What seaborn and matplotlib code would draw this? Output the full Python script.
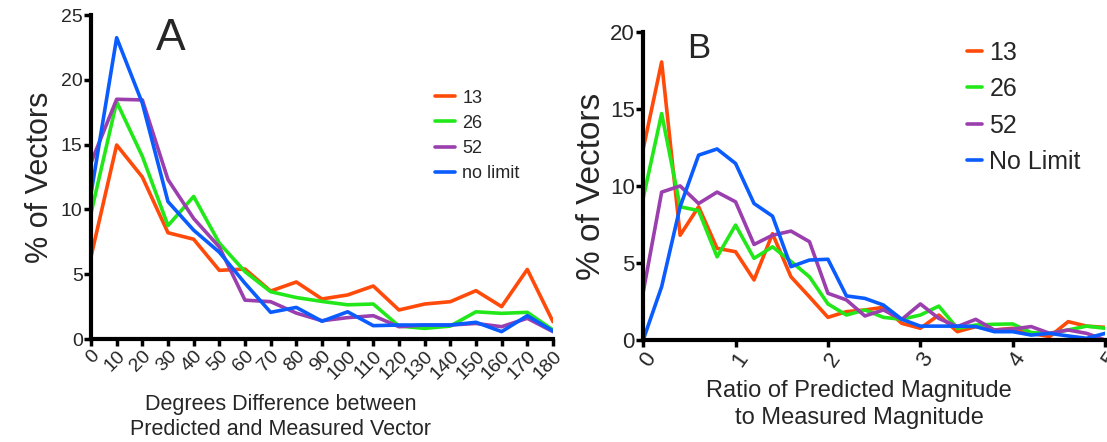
import numpy as np
import pandas as pd
import matplotlib
matplotlib.use("Agg")
import matplotlib.pyplot as plt
import seaborn as sns

# panel A: degrees difference (0..180 step 10)
deg = list(range(0, 190, 10))
a_13 = [6.35, 14.97, 12.5, 8.2, 7.7, 5.3, 5.4, 3.7, 4.4, 3.09, 3.4, 4.09, 2.24, 2.7, 2.88, 3.73, 2.5, 5.37, 1.34]
a_26 = [9.7, 18.3, 14.1, 8.75, 11.0, 7.4, 5.2, 3.65, 3.2, 2.9, 2.64, 2.7, 1.0, 0.82, 1.0, 2.1, 1.98, 2.06, 0.7]
a_52 = [13.6, 18.5, 18.45, 12.3, 9.3, 7.1, 3.0, 2.88, 2.0, 1.41, 1.65, 1.8, 0.95, 1.08, 1.08, 1.2, 0.95, 1.6, 0.57]
a_nl = [11.2, 23.25, 18.2, 10.6, 8.4, 6.7, 4.3, 2.06, 2.44, 1.37, 2.1, 1.03, 1.08, 1.08, 1.08, 1.29, 0.57, 1.8, 0.62]

# panel B: magnitude ratio (0..5 step 0.2)
ratio = [round(i * 0.2, 1) for i in range(26)]
b_13 = [12.4, 18.05, 6.8, 8.65, 5.95, 5.73, 3.9, 6.9, 4.1, 2.8, 1.47, 1.84, 1.95, 2.12, 1.08, 0.76,
        1.62, 0.54, 0.87, 0.65, 0.76, 0.43, 0.22, 1.19, 0.9, 0.82]
b_26 = [9.2, 14.7, 8.65, 8.4, 5.4, 7.46, 5.3, 6.05, 5.1, 4.1, 2.34, 1.62, 1.95, 1.47, 1.34, 1.62,
        2.2, 0.76, 0.97, 1.02, 1.04, 0.48, 0.43, 0.65, 0.9, 0.76]
b_52 = [3.1, 9.6, 10.0, 8.86, 9.6, 8.97, 6.2, 6.8, 7.07, 6.38, 3.03, 2.6, 1.56, 1.95, 1.34, 2.34,
        1.4, 0.87, 1.34, 0.65, 0.71, 0.87, 0.43, 0.65, 0.43, 0.0]
b_nl = [0.0, 3.46, 8.65, 12.0, 12.4, 11.46, 8.86, 8.04, 4.76, 5.19, 5.24, 2.86, 2.7, 2.27, 1.34, 0.9,
        0.9, 0.9, 0.87, 0.54, 0.54, 0.32, 0.43, 0.26, 0.11, 0.43]

colors = ["#FF4A0A", "#22E81A", "#9B3FAE", "#0A5CFF"]

dfa = pd.DataFrame({"x": deg * 4, "y": a_13 + a_26 + a_52 + a_nl,
                    "grp": ["13"] * 19 + ["26"] * 19 + ["52"] * 19 + ["no limit"] * 19})
dfb = pd.DataFrame({"x": ratio * 4, "y": b_13 + b_26 + b_52 + b_nl,
                    "grp": ["13"] * 26 + ["26"] * 26 + ["52"] * 26 + ["No Limit"] * 26})

sns.set_style("ticks")
plt.rcParams['font.family'] = ['Liberation Sans', 'DejaVu Sans']

fig = plt.figure(figsize=(11.07, 4.42), dpi=100)
axA = fig.add_axes([0.0822, 0.233, 0.4173, 0.733])
axB = fig.add_axes([0.581, 0.2308, 0.4173, 0.697])

sns.lineplot(data=dfa, x="x", y="y", hue="grp", palette=colors, linewidth=2.6, ax=axA)
sns.lineplot(data=dfb, x="x", y="y", hue="grp", palette=colors, linewidth=2.6, ax=axB)

for ax in (axA, axB):
    sns.despine(ax=ax)
    for s in ("left", "bottom"):
        ax.spines[s].set_linewidth(3)
        ax.spines[s].set_color("black")
    ax.tick_params(width=2.5, length=5, color="black", labelsize=14, pad=1)

# panel A
axA.set_xlim(0, 180)
axA.set_ylim(0, 25)
axA.set_xticks(deg)
axA.set_xticklabels([str(d) for d in deg], rotation=45, ha="right", va="top",
                    rotation_mode="anchor")
axA.set_yticks([0, 5, 10, 15, 20, 25])
axA.set_ylabel("% of Vectors", fontsize=22, labelpad=4)
axA.set_xlabel("Degrees Difference between\nPredicted and Measured Vector", fontsize=15.5,
               labelpad=8, linespacing=1.3)
axA.xaxis.label.set_x(0.41)
axA.text(0.14, 0.99, "A", transform=axA.transAxes, fontsize=32, va="top")
axA.legend(loc="upper left", bbox_to_anchor=(0.71, 0.82), frameon=False, fontsize=13,
           handlelength=1.1, handletextpad=0.4, labelspacing=0.45)

# panel B
axB.set_xlim(0, 5)
axB.set_ylim(0, 20)
axB.set_xticks([0, 1, 2, 3, 4, 5])
axB.set_xticklabels(["0", "1", "2", "3", "4", "5"], rotation=55, ha="right", va="top",
                    rotation_mode="anchor")
axB.tick_params(labelsize=16)
axB.set_yticks([0, 5, 10, 15, 20])
axB.set_ylabel("% of Vectors", fontsize=24, labelpad=2)
axB.set_xlabel("Ratio of Predicted Magnitude\nto Measured Magnitude", fontsize=17,
               labelpad=7, linespacing=1.3)
axB.xaxis.label.set_x(0.468)
axB.text(0.095, 1.0, "B", transform=axB.transAxes, fontsize=25, va="top")
axB.legend(loc="upper left", bbox_to_anchor=(0.652, 1.045), frameon=False, fontsize=18,
           handlelength=0.6, handletextpad=0.3, labelspacing=0.5)

fig.savefig("out.png", dpi=100)
